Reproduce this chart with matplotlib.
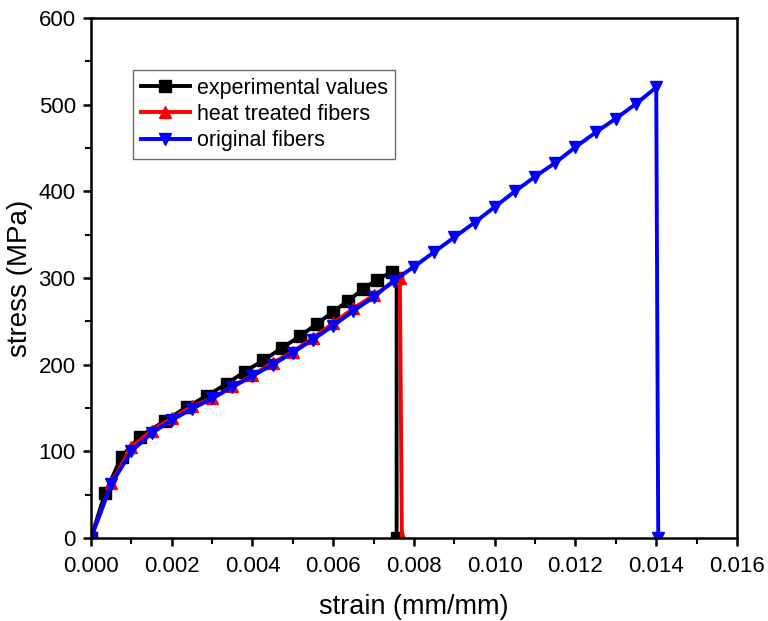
import matplotlib
matplotlib.use("Agg")
import matplotlib.pyplot as plt
from matplotlib.ticker import MultipleLocator, FormatStrFormatter

plt.rcParams['font.family'] = ['Liberation Sans', 'DejaVu Sans']

exp_strain = [0.0, 0.00035, 0.00076, 0.00121, 0.00183, 0.00237, 0.00287, 0.00336, 0.00381,
              0.00427, 0.00472, 0.00518, 0.00559, 0.00600, 0.00637, 0.00674, 0.00708, 0.00745,
              0.00757, 0.00757]
exp_stress = [0, 52, 94, 117, 135, 151, 164, 178, 192, 205, 219, 233, 247, 261, 274, 287, 298, 307,
              300, 0]

heat_strain = [0.0, 0.0005, 0.0010, 0.0015, 0.0020, 0.0025, 0.0030, 0.0035, 0.0040, 0.0045,
               0.0050, 0.0055, 0.0060, 0.0065, 0.0070, 0.00765, 0.0077]
heat_stress = [0, 63, 105, 124, 138, 152, 161, 175, 188, 202, 215, 231, 248, 265, 280, 300, 0]

orig_strain = [0.0, 0.0005, 0.0010, 0.0015, 0.0020, 0.0025, 0.0030, 0.0035, 0.0040, 0.0045,
               0.0050, 0.0055, 0.0060, 0.0065, 0.0070, 0.0075, 0.0080, 0.0085, 0.0090, 0.0095,
               0.0100, 0.0105, 0.0110, 0.0115, 0.0120, 0.0125, 0.0130, 0.0135, 0.0140, 0.01405]
orig_stress = [0, 62, 100, 121, 136, 149, 161, 174, 187, 200, 214, 229, 245, 262, 278, 297,
               313, 330, 347, 364, 382, 400, 417, 433, 451, 468, 484, 501, 520, 0]

fig = plt.figure(figsize=(7.68, 6.21), dpi=100)
ax = fig.add_axes([0.1185, 0.1337, 0.8411, 0.8373])

ax.plot(exp_strain, exp_stress, color='black', lw=2.8, marker='s', ms=8.5, label='experimental values')
ax.plot(heat_strain, heat_stress, color='red', lw=2.8, marker='^', ms=9, label='heat treated fibers')
ax.plot(orig_strain, orig_stress, color='blue', lw=2.8, marker='v', ms=9, label='original fibers')

ax.set_xlim(0, 0.016)
ax.set_ylim(0, 600)
ax.xaxis.set_major_locator(MultipleLocator(0.002))
ax.xaxis.set_minor_locator(MultipleLocator(0.001))
ax.xaxis.set_major_formatter(FormatStrFormatter('%.3f'))
ax.yaxis.set_major_locator(MultipleLocator(100))
ax.yaxis.set_minor_locator(MultipleLocator(50))

for s in ax.spines.values():
    s.set_linewidth(1.8)
ax.tick_params(which='major', direction='out', length=6, width=1.8, labelsize=16)
ax.tick_params(axis='x', which='major', pad=7)
ax.tick_params(axis='y', which='major', pad=5)
ax.tick_params(which='minor', direction='out', length=4, width=1.5)

ax.set_xlabel('strain (mm/mm)', fontsize=19.5, labelpad=12)
ax.set_ylabel('stress (MPa)', fontsize=20, labelpad=4)

leg = ax.legend(loc='upper left', bbox_to_anchor=(0.065, 0.90), fontsize=15.5, frameon=True,
                fancybox=False, edgecolor='#444444', handlelength=2.3, borderpad=0.35,
                labelspacing=0.25, handletextpad=0.3, borderaxespad=0)
leg.get_frame().set_linewidth(1.0)

fig.savefig('out.png', dpi=100)
